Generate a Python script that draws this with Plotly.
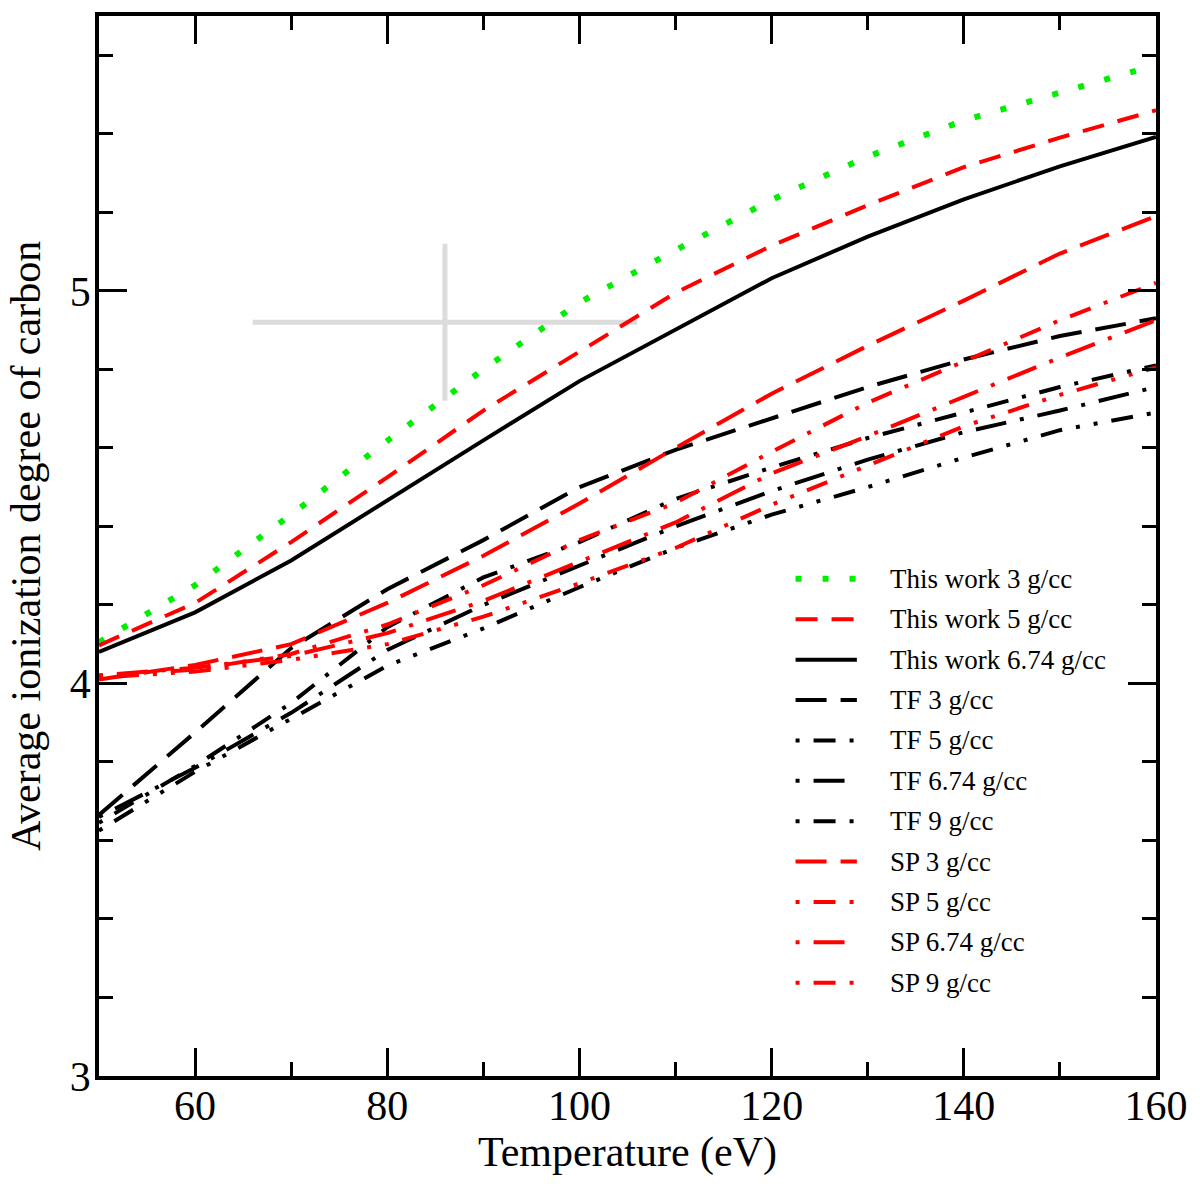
import plotly.graph_objects as go

# temperatures (eV) at which the curves are read
temperature = [50, 60, 70, 80, 90, 100, 110, 120, 130, 140, 150, 160]

# average ionization degree of carbon
this_work_3 = [4.105, 4.25, 4.43, 4.618, 4.80, 4.97, 5.104, 5.232, 5.342, 5.434, 5.505, 5.575]
this_work_5 = [4.097, 4.205, 4.36, 4.525, 4.695, 4.845, 4.995, 5.115, 5.218, 5.315, 5.39, 5.46]
this_work_674 = [4.08, 4.181, 4.313, 4.467, 4.619, 4.77, 4.90, 5.032, 5.138, 5.233, 5.317, 5.392]

tf_3 = [3.665, 3.875, 4.09, 4.24, 4.365, 4.50, 4.595, 4.675, 4.755, 4.825, 4.885, 4.93]
tf_5 = [3.645, 3.79, 3.95, 4.143, 4.27, 4.36, 4.47, 4.55, 4.625, 4.69, 4.755, 4.81]
tf_674 = [3.66, 3.785, 3.925, 4.085, 4.20, 4.30, 4.40, 4.49, 4.57, 4.64, 4.695, 4.755]
tf_9 = [3.625, 3.775, 3.91, 4.045, 4.14, 4.245, 4.345, 4.43, 4.50, 4.575, 4.645, 4.69]

sp_3 = [4.01, 4.047, 4.10, 4.205, 4.325, 4.458, 4.60, 4.738, 4.86, 4.975, 5.095, 5.19]
sp_5 = [4.02, 4.035, 4.075, 4.15, 4.25, 4.365, 4.46, 4.59, 4.715, 4.82, 4.925, 5.02]
sp_674 = [4.02, 4.04, 4.07, 4.128, 4.21, 4.31, 4.41, 4.535, 4.63, 4.73, 4.83, 4.925]
sp_9 = [4.015, 4.03, 4.06, 4.10, 4.17, 4.255, 4.345, 4.455, 4.555, 4.655, 4.735, 4.805]

# experimental point with error bars (grey cross)
exp_T = [86]
exp_Z = [4.92]
exp_T_err = [20]
exp_Z_err = [0.2]

GREEN = "#00ee00"
RED = "#ff0000"
BLACK = "#000000"

series = [
    ("This work 3 g/cc", this_work_3, GREEN, "6px,21px", 6),
    ("This work 5 g/cc", this_work_5, RED, "22px,14px", 4),
    ("This work 6.74 g/cc", this_work_674, BLACK, "solid", 4),
    ("TF 3 g/cc", tf_3, BLACK, "31px,14px", 4),
    ("TF 5 g/cc", tf_5, BLACK, "4px,14px,22px,14px", 4),
    ("TF 6.74 g/cc", tf_674, BLACK, "4px,14px,31px,14px", 4),
    ("TF 9 g/cc", tf_9, BLACK, "4px,14px,22px,14px,4px,14px", 4),
    ("SP 3 g/cc", sp_3, RED, "31px,14px", 4),
    ("SP 5 g/cc", sp_5, RED, "4px,14px,22px,14px", 4),
    ("SP 6.74 g/cc", sp_674, RED, "4px,14px,31px,14px", 4),
    ("SP 9 g/cc", sp_9, RED, "4px,14px,22px,14px,4px,14px", 4),
]

FONT = "Liberation Serif, Times New Roman, serif"

fig = go.Figure()

fig.add_trace(go.Scatter(
    x=exp_T, y=exp_Z, mode="markers",
    marker=dict(size=1, color="#dcdcdc"),
    error_x=dict(type="data", array=exp_T_err, color="#dcdcdc", thickness=5, width=0),
    error_y=dict(type="data", array=exp_Z_err, color="#dcdcdc", thickness=5, width=0),
    showlegend=False,
))

for name, vals, color, dash, w in series:
    fig.add_trace(go.Scatter(
        x=temperature, y=vals, mode="lines", name=name,
        line=dict(color=color, width=w, dash=dash),
        showlegend=False,
    ))

# hand-made legend, to get the long line samples of the original
lx0, lx1, tx = 0.659, 0.717, 0.746
ly0, lstep = 0.469, 0.0381
for i, (name, vals, color, dash, w) in enumerate(series):
    yy = ly0 - i * lstep
    fig.add_shape(type="line", xref="paper", yref="paper",
                  x0=lx0, x1=lx1, y0=yy, y1=yy,
                  line=dict(color=color, width=w, dash=dash))
    fig.add_annotation(xref="paper", yref="paper", x=tx, y=yy, text=name,
                       showarrow=False, xanchor="left", yanchor="middle",
                       font=dict(family=FONT, size=27, color="black"))

axis_common = dict(
    showline=True, linecolor="black", linewidth=3.5, mirror="allticks",
    ticks="inside", ticklen=28, tickwidth=3, tickcolor="black",
    showgrid=False, zeroline=False,
    tickfont=dict(family=FONT, size=42, color="black"),
)

fig.update_xaxes(
    range=[50, 160], tick0=0, dtick=20, ticklabelstandoff=-10,
    minor=dict(dtick=10, ticks="inside", ticklen=14, tickwidth=3, tickcolor="black", showgrid=False),
    title=dict(text="Temperature (eV)", font=dict(family=FONT, size=42, color="black"), standoff=4),
    **axis_common,
)
fig.update_yaxes(
    range=[3, 5.7], tick0=0, dtick=1, ticklabelstandoff=-4,
    minor=dict(dtick=0.2, ticks="inside", ticklen=14, tickwidth=3, tickcolor="black", showgrid=False),
    title=dict(text="Average ionization degree of carbon", font=dict(family=FONT, size=42, color="black"), standoff=17),
    **axis_common,
)

fig.update_layout(
    width=1200, height=1186,
    margin=dict(l=99, r=38, t=12, b=110),
    plot_bgcolor="white", paper_bgcolor="white",
    font=dict(family=FONT, color="black"),
)

fig.write_html("out.html", config={"displayModeBar": False},
               post_script="document.body.style.margin='0';document.body.style.padding='0';")
